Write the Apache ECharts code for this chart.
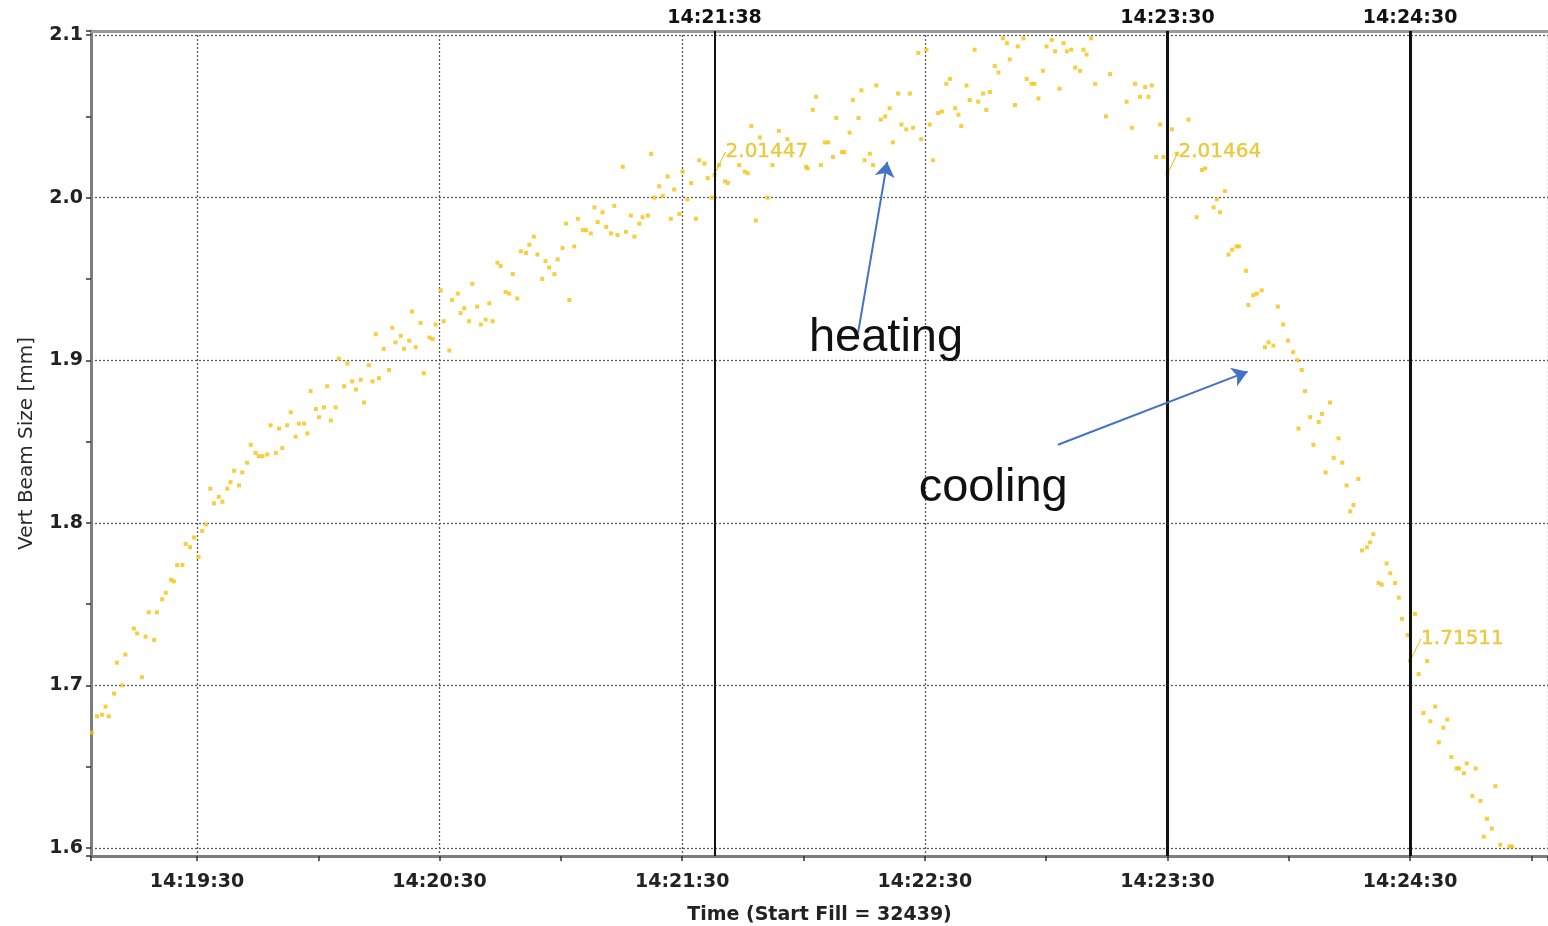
<!DOCTYPE html>
<html><head><meta charset="utf-8">
<script src="https://cdn.jsdelivr.net/npm/echarts@6/dist/echarts.min.js"></script>
<style>html,body{margin:0;padding:0;background:#fff}#c{width:1548px;height:926px}</style>
</head><body><div id="c"></div>
<script>
// Clock origin of the time axis: 14:19:30 ; times below are seconds after it
const clockOrigin = [14, 19, 30];
const timeSec = [
 -26.0,-24.7,-23.5,-22.6,-21.8,-20.5,-19.8,-18.5,-17.7,-15.6,
 -14.8,-13.6,-12.7,-11.9,-10.6,-9.9,-8.6,-7.7,-6.4,-5.7,
 -4.9,-3.6,-2.8,-1.7,-0.7,0.4,1.3,2.2,3.3,4.2,
 5.4,6.3,7.5,8.3,9.2,10.4,11.2,12.4,13.3,14.5,
 15.3,16.2,17.4,18.2,19.5,20.3,21.1,22.3,23.2,24.4,
 25.2,26.5,27.3,28.1,29.4,30.2,31.4,32.2,33.1,34.3,
 35.1,36.4,37.2,38.4,39.3,40.5,41.3,42.5,43.4,44.2,
 45.0,46.2,47.5,48.3,49.1,50.4,51.2,52.5,53.2,54.1,
 55.3,56.1,57.5,58.3,59.0,60.3,61.0,62.4,63.1,64.5,
 65.2,66.1,67.3,68.1,69.3,70.2,71.4,72.3,73.1,74.3,
 75.1,76.3,77.2,78.1,79.2,80.1,81.4,82.2,83.3,84.2,
 85.4,86.2,87.1,88.4,89.2,90.4,91.3,92.1,93.3,94.2,
 95.4,96.2,97.4,98.3,99.1,100.3,101.2,102.4,103.2,104.0,
 105.3,106.1,107.3,108.2,109.4,110.2,111.5,112.3,113.1,114.3,
 115.2,116.4,117.2,118.0,119.3,120.1,121.3,122.2,123.4,124.2,
 125.5,126.3,127.3,128.0,129.1,130.6,131.3,134.1,135.5,136.2,
 137.1,138.2,139.2,141.1,142.3,143.9,146.0,150.6,151.0,152.3,
 153.1,154.3,155.3,156.1,157.3,158.1,159.5,160.1,161.4,162.2,
 163.6,164.3,165.1,166.4,167.2,168.0,169.1,170.2,171.3,172.1,
 173.4,174.2,175.4,176.3,177.1,178.4,179.1,180.4,181.2,182.0,
 183.3,184.2,185.3,186.2,187.5,188.3,189.0,190.3,191.1,192.3,
 193.2,194.4,195.2,196.1,197.3,198.2,199.3,200.3,201.0,202.3,
 203.0,204.4,205.2,206.4,207.1,208.1,209.2,210.1,211.4,212.2,
 213.3,214.3,215.1,216.2,217.2,218.4,219.2,220.0,221.1,222.1,
 224.8,225.8,229.9,231.2,232.0,233.2,234.5,235.3,236.1,237.2,
 238.2,239.0,240.0,241.1,242.3,245.2,247.2,248.5,249.3,251.4,
 252.2,253.0,254.2,255.1,256.0,257.1,257.7,259.4,260.0,261.2,
 262.1,263.3,264.1,265.0,266.2,267.3,268.6,269.8,271.1,272.1,
 272.4,273.2,274.0,275.3,276.1,277.4,278.2,279.1,280.2,281.1,
 282.3,283.2,284.3,285.2,286.0,287.2,288.1,289.3,290.1,290.9,
 292.2,293.0,294.2,295.1,296.3,297.2,298.0,299.4,300.0,301.2,
 302.1,303.3,304.2,305.0,306.2,307.1,308.2,309.2,310.2,311.5,
 312.1,313.3,314.0,315.4,316.2,317.4,318.2,319.0,320.2,321.1,
 322.3,324.6,325.2
];
const beamSize = [
 1.671,1.681,1.682,1.687,1.681,1.695,1.714,1.700,1.719,1.735,
 1.732,1.705,1.730,1.745,1.728,1.745,1.753,1.757,1.765,1.764,
 1.774,1.774,1.787,1.785,1.791,1.779,1.795,1.799,1.821,1.812,
 1.816,1.813,1.821,1.825,1.832,1.823,1.831,1.837,1.848,1.843,
 1.841,1.841,1.842,1.860,1.843,1.858,1.846,1.860,1.868,1.853,
 1.861,1.861,1.855,1.881,1.870,1.865,1.871,1.884,1.863,1.871,
 1.901,1.884,1.898,1.887,1.882,1.888,1.874,1.897,1.887,1.916,
 1.889,1.907,1.894,1.920,1.911,1.915,1.907,1.912,1.930,1.908,
 1.923,1.892,1.914,1.913,1.922,1.943,1.924,1.906,1.937,1.941,
 1.929,1.932,1.924,1.947,1.933,1.922,1.925,1.935,1.924,1.960,
 1.958,1.942,1.941,1.953,1.938,1.967,1.966,1.971,1.976,1.965,
 1.950,1.961,1.957,1.953,1.962,1.969,1.984,1.937,1.970,1.987,
 1.980,1.980,1.978,1.994,1.985,1.991,1.982,1.978,1.995,1.977,
 2.019,1.979,1.989,1.976,1.984,1.988,1.989,2.027,2.000,2.007,
 2.001,2.013,1.987,2.005,1.990,2.016,1.999,2.009,1.987,2.023,
 2.021,2.012,2.000,2.014,2.020,2.010,2.009,2.020,2.016,2.015,
 2.044,1.986,2.037,2.000,2.020,2.041,2.036,2.019,2.018,2.054,
 2.062,2.020,2.034,2.034,2.025,2.049,2.028,2.028,2.040,2.060,
 2.049,2.066,2.023,2.027,2.020,2.069,2.048,2.050,2.055,2.034,
 2.064,2.045,2.042,2.064,2.043,2.089,2.036,2.091,2.045,2.023,
 2.052,2.053,2.070,2.073,2.055,2.051,2.044,2.069,2.060,2.091,
 2.059,2.064,2.054,2.065,2.081,2.077,2.098,2.095,2.085,2.057,
 2.093,2.098,2.073,2.070,2.070,2.061,2.078,2.093,2.097,2.090,
 2.067,2.095,2.090,2.091,2.080,2.078,2.091,2.088,2.098,2.070,
 2.050,2.076,2.059,2.043,2.070,2.062,2.068,2.062,2.069,2.025,
 2.045,2.025,2.015,2.042,2.027,2.048,1.988,2.017,2.018,1.994,
 1.999,1.991,2.004,1.965,1.968,1.970,1.970,1.955,1.934,1.940,
 1.941,1.943,1.908,1.911,1.909,1.933,1.922,1.912,1.905,1.900,
 1.858,1.894,1.881,1.865,1.848,1.862,1.867,1.831,1.874,1.840,
 1.852,1.837,1.823,1.807,1.811,1.827,1.783,1.785,1.788,1.793,
 1.763,1.762,1.775,1.769,1.763,1.754,1.741,1.731,1.715,1.744,
 1.707,1.683,1.715,1.678,1.687,1.665,1.674,1.679,1.656,1.649,
 1.649,1.646,1.652,1.632,1.649,1.629,1.607,1.618,1.612,1.638,
 1.602,1.601,1.601
];
// cursor markers (seconds after origin) and their read-out values
const markerSec = [128, 240, 300];
const markerValue = [2.01447, 2.01464, 1.71511];
const markerWidth = [2, 3, 3];
// axis ranges
const xRange = [-26.2, 334.1];
const yRange = [1.5951, 2.1025];
// annotations: arrows [from, to] in data coordinates, and texts
const arrowHeating = [[163.5, 1.917], [170.7, 2.022]];
const arrowCooling = [[212.9, 1.848], [259.8, 1.893]];
const noteTexts = ['heating', 'cooling'];
const notePos = [[170.4, 1.9137], [196.9, 1.8214]];
const xTitle = 'Time (Start Fill = 32439)';
const yTitle = 'Vert Beam Size [mm]';

const originSec = clockOrigin[0]*3600 + clockOrigin[1]*60 + clockOrigin[2];
function pad(n){ return (n < 10 ? '0' : '') + n; }
function fmtClock(s){
  const t = Math.round(originSec + s);
  return Math.floor(t/3600) + ':' + pad(Math.floor(t%3600/60)) + ':' + pad(t%60);
}
const FONT = 'DejaVu Sans';
const dotColor = '#f2c30f';
const labelColor = '#e6bd17';

const chart = echarts.init(document.getElementById('c'), null, {renderer:'canvas'});
const option = {
  animation: false,
  backgroundColor: '#ffffff',
  grid: {left: 91, right: 0, top: 31, bottom: 70, containLabel: false, outerBoundsMode: 'none'},
  xAxis: [{
    type: 'value', min: xRange[0], max: xRange[1],
    minInterval: 60, maxInterval: 60, splitNumber: 6,
    position: 'bottom',
    name: xTitle, nameLocation: 'middle', nameGap: 50,
    nameTextStyle: {fontFamily: FONT, fontWeight: 'bold', fontSize: 19, color: '#222'},
    axisLine: {show: true, onZero: false, lineStyle: {color: '#7d7d7d', width: 3}},
    axisTick: {show: true, length: 5, lineStyle: {color: '#333', width: 1.5}},
    minorTick: {show: true, splitNumber: 2, length: 5, lineStyle: {color: '#333', width: 1.5}},
    axisLabel: {showMinLabel: false, showMaxLabel: false, margin: 17, formatter: fmtClock,
      fontFamily: FONT, fontWeight: 'bold', fontSize: 19, color: '#222'},
    splitLine: {show: true, lineStyle: {color: '#5a5a5a', type: [2, 2], width: 1.3}}
  }, {
    type: 'value', min: xRange[0], max: xRange[1], position: 'top',
    axisLine: {show: true, onZero: false, lineStyle: {color: '#9a9a9a', width: 3}},
    axisTick: {show: false}, axisLabel: {show: false}, splitLine: {show: false}
  }],
  yAxis: {
    type: 'value', min: yRange[0], max: yRange[1],
    minInterval: 0.1, maxInterval: 0.1, splitNumber: 5,
    name: yTitle, nameLocation: 'middle', nameGap: 54, nameRotate: 90,
    nameTextStyle: {fontFamily: FONT, fontSize: 20, color: '#2a2a2a'},
    axisLine: {show: true, onZero: false, lineStyle: {color: '#7d7d7d', width: 3}},
    axisTick: {show: true, length: 5, lineStyle: {color: '#333', width: 1.5}},
    minorTick: {show: true, splitNumber: 2, length: 5, lineStyle: {color: '#333', width: 1.5}},
    axisLabel: {showMinLabel: false, showMaxLabel: false, margin: 8,
      formatter: v => v.toFixed(1), fontFamily: FONT, fontWeight: 'bold', fontSize: 19, color: '#222'},
    splitLine: {show: true, lineStyle: {color: '#5a5a5a', type: [2, 2], width: 1.3}}
  },
  series: [{
    name: 'beam', type: 'scatter', xAxisIndex: 0, yAxisIndex: 0,
    data: timeSec.map((t, i) => [t, beamSize[i]]),
    symbol: 'rect', symbolSize: 4,
    itemStyle: {color: dotColor},
    z: 3,
    markLine: {
      silent: true, symbol: 'none', animation: false,
      label: {show: true, position: 'end', distance: 3, formatter: p => fmtClock(p.value),
        fontFamily: FONT, fontWeight: 'bold', fontSize: 19, color: '#111'},
      lineStyle: {color: '#111', type: 'solid', width: 2},
      emphasis: {disabled: true},
      data: markerSec.map((s, i) => ({xAxis: s, lineStyle: {width: markerWidth[i], color: '#111', type: 'solid'}}))
    }
  }, {
    name: 'readout', type: 'scatter', xAxisIndex: 0, yAxisIndex: 0,
    data: markerSec.map((s, i) => [s, markerValue[i]]),
    symbol: 'circle', symbolSize: 2, itemStyle: {color: labelColor},
    z: 4,
    label: {show: true, position: 'right', distance: 10, formatter: p => p.value[1].toFixed(5),
      fontFamily: FONT, fontSize: 20, color: labelColor, textBorderColor: labelColor, textBorderWidth: 0.4},
    labelLayout: {dy: -22},
    labelLine: {show: true, lineStyle: {color: labelColor, width: 1}}
  }, {
    name: 'arrows', type: 'line', xAxisIndex: 0, yAxisIndex: 0, data: [],
    markLine: {
      silent: true, animation: false,
      symbol: ['none', 'arrow'], symbolSize: 15,
      label: {show: false},
      lineStyle: {color: '#4472c4', type: 'solid', width: 2},
      emphasis: {disabled: true},
      data: [arrowHeating, arrowCooling].map(a => [{coord: a[0]}, {coord: a[1]}])
    },
    markPoint: {
      silent: true, animation: false,
      symbol: 'circle', symbolSize: 1, itemStyle: {color: 'rgba(0,0,0,0)'},
      label: {show: true, position: 'inside', formatter: p => p.name,
        fontFamily: 'Liberation Sans', fontSize: 47, color: '#111'},
      data: noteTexts.map((t, i) => ({name: t, coord: notePos[i]}))
    }
  }]
};
chart.setOption(option);
</script>
</body></html>
